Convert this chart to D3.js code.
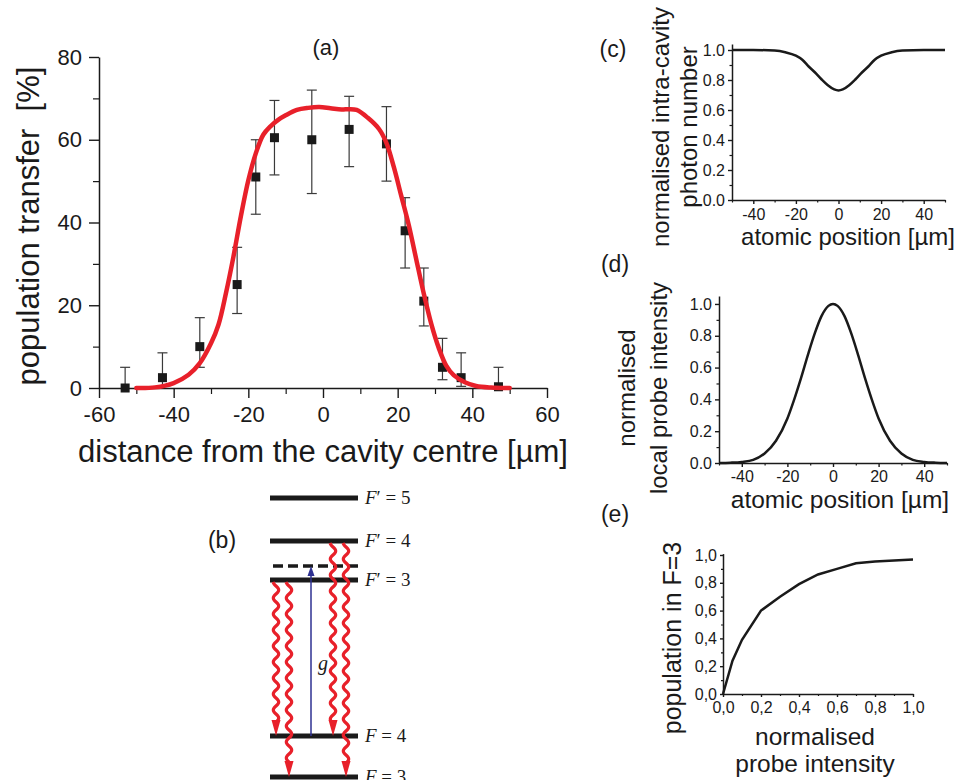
<!doctype html>
<html>
<head>
<meta charset="utf8">
<title>Cavity population transfer</title>
<script src="https://cdn.jsdelivr.net/npm/d3@7"></script>
<style>
    body { margin: 0; background: #fff; }
    svg text { font-family: "Liberation Sans", Arial, sans-serif; fill: #1a1a1a; }
</style>
</head>
<body>
<svg id="fig" width="957" height="780"></svg>
<script>
"use strict";
// (a) measured transfer vs distance from cavity centre
const posA = [-53, -43, -33, -23, -18, -13, -3, 7, 17, 22, 27, 32, 37, 47];
const transferA = [0, 2.5, 10, 25, 51, 60.5, 60, 62.5, 59, 38, 21, 5, 2.5, 0.3];
const errLoA = [0, 0, 5, 18, 42, 51.5, 47, 53.5, 50, 29, 15, 2, 0.4, 0];
const errHiA = [5, 8.5, 17, 34, 60, 69.5, 72, 70.5, 68, 46, 29, 12, 8.5, 5];
// (a) fitted curve
const fitX = [-50, -45, -40, -36, -33, -30, -28, -26, -24, -22, -20, -18, -16, -14, -12, -10, -7, -4, -1,
              2, 5, 7, 9, 12, 15, 17, 19, 21, 23, 25, 27, 29, 31, 33, 35, 38, 41, 45, 50];
const fitY = [0, 0.15, 1.2, 3.2, 6, 10.8, 15.3, 22.9, 31.7, 41.5, 50.2, 56.7, 61.2, 63.3, 64.8, 65.9, 67.2, 67.7, 67.9,
              67.6, 67.3, 67.4, 67.2, 65.3, 62.6, 59.2, 53.3, 46.3, 39.3, 31, 22.8, 15.5, 9.7, 5.4, 3.1, 1.4, 0.5, 0.12, 0];
const xTicksA = [-60, -40, -20, 0, 20, 40, 60], xMinorA = [-50, -30, -10, 10, 30, 50];
const yTicksA = [0, 20, 40, 60, 80], yMinorA = [10, 30, 50, 70];

// (c) normalised intra-cavity photon number
const posC = [-50, -40, -30, -25, -20, -17, -14, -11, -8, -5, -2, 0, 2, 5, 8, 11, 14, 17, 20, 25, 30, 40, 50];
const photonC = [1, 1, 0.996, 0.985, 0.962, 0.935, 0.89, 0.85, 0.805, 0.765, 0.737, 0.73, 0.737, 0.765, 0.805,
                 0.85, 0.89, 0.935, 0.962, 0.985, 0.996, 1, 1];
// (d) normalised local probe intensity
const posD = [-50, -45, -40, -35, -30, -25, -20, -17, -14, -11, -8, -5, -2, 0, 2, 5, 8, 11, 14, 17, 20, 25, 30, 35, 40, 45, 50];
const probeD = [0, 0.002, 0.007, 0.02, 0.06, 0.14, 0.28, 0.4, 0.535, 0.68, 0.815, 0.925, 0.988, 1, 0.988, 0.925,
                0.815, 0.68, 0.535, 0.4, 0.28, 0.14, 0.06, 0.02, 0.007, 0.002, 0];
const posTicks = [-40, -20, 0, 20, 40], posMinor = [-50, -30, -10, 10, 30, 50];
const unitTicks = [0, 0.2, 0.4, 0.6, 0.8, 1.0], unitMinor = [0.1, 0.3, 0.5, 0.7, 0.9];
// (e) population in F=3 vs probe intensity
const intensE = [0, 0.05, 0.1, 0.2, 0.3, 0.4, 0.5, 0.6, 0.7, 0.8, 0.9, 1.0];
const popE = [0, 0.24, 0.39, 0.6, 0.7, 0.79, 0.86, 0.9, 0.94, 0.953, 0.96, 0.968];

// (b) level scheme (relative energies, arbitrary units)
const levelF = [3, 4, 3, 4, 5];
const levelPrime = [false, false, true, true, true];
const levelE = [0, 41, 197, 236, 279];
const virtualE = 211;
const decayFrom = [2, 2, 3, 3];   // index into levels
const decayTo = [1, 0, 1, 0];

const red = "#e8202a", ink = "#1a1a1a";
const svg = d3.select("#fig");

function axis(scale, side, at, major, minor, len, minorLen, pad, fmt, fs) {
    const mk = side === "bottom" ? d3.axisBottom : d3.axisLeft;
    const tr = side === "bottom" ? `translate(0,${at})` : `translate(${at},0)`;
    const m = svg.append("g").attr("transform", tr)
        .call(mk(scale).tickValues(minor).tickSize(minorLen).tickFormat(""));
    m.select(".domain").remove();
    m.selectAll("line").attr("stroke", ink).attr("stroke-width", 1.2);
    const g = svg.append("g").attr("transform", tr)
        .call(mk(scale).tickValues(major).tickSize(len).tickSizeOuter(0).tickPadding(pad).tickFormat(fmt));
    g.attr("font-family", "Liberation Sans, Arial, sans-serif").attr("font-size", fs);
    g.select(".domain").attr("stroke", ink).attr("stroke-width", 1.5);
    g.selectAll("line").attr("stroke", ink).attr("stroke-width", 1.4);
    g.selectAll("text").attr("fill", ink);
    return g;
}

function label(x, y, txt, fs, rot, anchor) {
    const t = svg.append("text").attr("font-size", fs).attr("text-anchor", anchor || "middle").text(txt);
    if (rot) t.attr("transform", `translate(${x},${y}) rotate(-90)`);
    else t.attr("x", x).attr("y", y);
    return t;
}

// plain hyphen for negatives, as in the original figure
const intFmt = v => String(v);

// ---------- (a) ----------
const xA = d3.scaleLinear().domain([-60, 60]).range([99, 547]);
const yA = d3.scaleLinear().domain([0, 80]).range([388, 57]);
axis(xA, "bottom", 388, xTicksA, xMinorA, 10, 6, 8, intFmt, 22);
axis(yA, "left", 99, yTicksA, yMinorA, 10, 6, 7, intFmt, 22);

const ptsA = posA.map((x, i) => ({x, y: transferA[i], lo: errLoA[i], hi: errHiA[i]}));
const eb = svg.append("g").attr("stroke", "#3a3a3a").attr("stroke-width", 1.2);
eb.selectAll(".v").data(ptsA).join("line")
    .attr("x1", d => xA(d.x)).attr("x2", d => xA(d.x))
    .attr("y1", d => yA(d.lo)).attr("y2", d => yA(d.hi));
eb.selectAll(".t").data(ptsA).join("line")
    .attr("x1", d => xA(d.x) - 5).attr("x2", d => xA(d.x) + 5)
    .attr("y1", d => yA(d.hi)).attr("y2", d => yA(d.hi));
eb.selectAll(".b").data(ptsA.filter(d => d.lo > 0)).join("line")
    .attr("x1", d => xA(d.x) - 5).attr("x2", d => xA(d.x) + 5)
    .attr("y1", d => yA(d.lo)).attr("y2", d => yA(d.lo));
svg.append("g").selectAll("rect").data(ptsA).join("rect")
    .attr("x", d => xA(d.x) - 4.5).attr("y", d => yA(d.y) - 4.5)
    .attr("width", 9).attr("height", 9).attr("fill", ink);

svg.append("path")
    .attr("d", d3.line().x(d => xA(d[0])).y(d => yA(d[1])).curve(d3.curveCatmullRom)(fitX.map((x, i) => [x, fitY[i]])))
    .attr("fill", "none").attr("stroke", red).attr("stroke-width", 4.5).attr("stroke-linecap", "round");

label(326, 55, "(a)", 22);
label(323, 462, "distance from the cavity centre [µm]", 31);
label(39, 226, "population transfer  [%]", 31, true).style("white-space", "pre");

// ---------- (c) ----------
const f1 = d3.format(".1f");
const xC = d3.scaleLinear().domain([-50, 50]).range([732, 945]);
const yC = d3.scaleLinear().domain([0, 1.04]).range([200, 44]);
axis(xC, "bottom", 200, posTicks, posMinor, 4, 2.5, 5, intFmt, 16);
axis(yC, "left", 732, unitTicks, unitMinor, 4, 2.5, 3, f1, 16);
svg.append("path")
    .attr("d", d3.line().x(d => xC(d[0])).y(d => yC(d[1])).curve(d3.curveMonotoneX)(posC.map((x, i) => [x, photonC[i]])))
    .attr("fill", "none").attr("stroke", ink).attr("stroke-width", 2.5);
label(613, 57, "(c)", 23);
label(669, 127, "normalised intra-cavity", 24, true);
label(697, 127, "photon number", 24, true);
label(848, 245, "atomic position [µm]", 24);

// ---------- (d) ----------
const xD = d3.scaleLinear().domain([-50, 50]).range([719, 947]);
const yD = d3.scaleLinear().domain([0, 1.05]).range([463, 296]);
axis(xD, "bottom", 463, posTicks, posMinor, 4, 2.5, 4, intFmt, 16);
axis(yD, "left", 719, unitTicks, unitMinor, 4, 2.5, 3, f1, 16);
svg.append("path")
    .attr("d", d3.line().x(d => xD(d[0])).y(d => yD(d[1])).curve(d3.curveMonotoneX)(posD.map((x, i) => [x, probeD[i]])))
    .attr("fill", "none").attr("stroke", ink).attr("stroke-width", 2.5);
label(615, 272, "(d)", 23);
label(635, 388, "normalised", 24, true);
label(667, 388, "local probe intensity", 24, true);
label(840, 508, "atomic position [µm]", 24.5);

// ---------- (e) ----------
const fc = v => f1(v).replace(".", ",");
const xE = d3.scaleLinear().domain([0, 1]).range([723, 913]);
const yE = d3.scaleLinear().domain([0, 1.01]).range([694, 553.6]);
axis(xE, "bottom", 694, unitTicks, unitMinor, 3, 2, 5, fc, 16);
axis(yE, "left", 723, unitTicks, unitMinor, 3, 2, 3, fc, 16);
svg.append("path")
    .attr("d", d3.line().x(d => xE(d[0])).y(d => yE(d[1]))(intensE.map((x, i) => [x, popE[i]])))
    .attr("fill", "none").attr("stroke", ink).attr("stroke-width", 2.5);
label(615, 522, "(e)", 23);
label(681, 638, "population in F=3", 25, true);
label(815, 745, "normalised", 24.5);
label(815, 772, "probe intensity", 24.5);

// ---------- (b) level scheme ----------
const yB = d3.scaleLinear().domain([0, 279]).range([777, 498]);
const lx0 = 270, lx1 = 358;
label(222, 548, "(b)", 23);
const lev = svg.append("g");
lev.selectAll("line").data(levelE).join("line")
    .attr("x1", lx0).attr("x2", lx1).attr("y1", d => yB(d)).attr("y2", d => yB(d))
    .attr("stroke", ink).attr("stroke-width", 5);
lev.append("line").attr("x1", lx0 + 3).attr("x2", lx1).attr("y1", yB(virtualE)).attr("y2", yB(virtualE))
    .attr("stroke", ink).attr("stroke-width", 3.5).attr("stroke-dasharray", "10,5");
const lt = svg.append("g").selectAll("text").data(levelE).join("text")
    .attr("x", lx1 + 7).attr("y", d => yB(d) + 6)
    .attr("font-size", 19).style("font-family", "Liberation Serif, serif");
lt.append("tspan").attr("font-style", "italic").text("F");
lt.append("tspan").text((d, i) => (levelPrime[i] ? "′" : "") + " = " + levelF[i]);

// coupling g (blue arrow)
const gx = 311;
svg.append("line").attr("x1", gx).attr("x2", gx).attr("y1", yB(levelE[1])).attr("y2", yB(virtualE) + 8)
    .attr("stroke", "#2e3192").attr("stroke-width", 1.5);
svg.append("path")
    .attr("d", `M${gx},${yB(virtualE)} L${gx - 3.5},${yB(virtualE) + 10} L${gx + 3.5},${yB(virtualE) + 10}Z`)
    .attr("fill", "#2e3192");
svg.append("text").attr("x", gx + 7).attr("y", 670).attr("font-size", 20)
    .attr("font-style", "italic").style("font-family", "Liberation Serif, serif").text("g");

// spontaneous decays (wavy red arrows)
const decayX = d3.scaleOrdinal([0, 1, 2, 3], [276, 289, 333, 346]);
decayFrom.forEach((fi, k) => {
    const x0 = decayX(k), y0 = yB(levelE[fi]) + 2, yTip = yB(levelE[decayTo[k]]);
    const head = 16, wl = 16, amp = 3;
    const pts = [];
    for (let y = y0; y <= yTip - head + 2; y += wl / 8) {
        pts.push([x0 + amp * Math.sin(2 * Math.PI * (y - y0) / wl - Math.PI / 2), y]);
    }
    svg.append("path").attr("d", d3.line().curve(d3.curveBasis)(pts))
        .attr("fill", "none").attr("stroke", red).attr("stroke-width", 3.2);
    svg.append("path").attr("d", `M${x0},${yTip} L${x0 - 4.5},${yTip - head} L${x0 + 4.5},${yTip - head}Z`)
        .attr("fill", red);
});
</script>
</body>
</html>
